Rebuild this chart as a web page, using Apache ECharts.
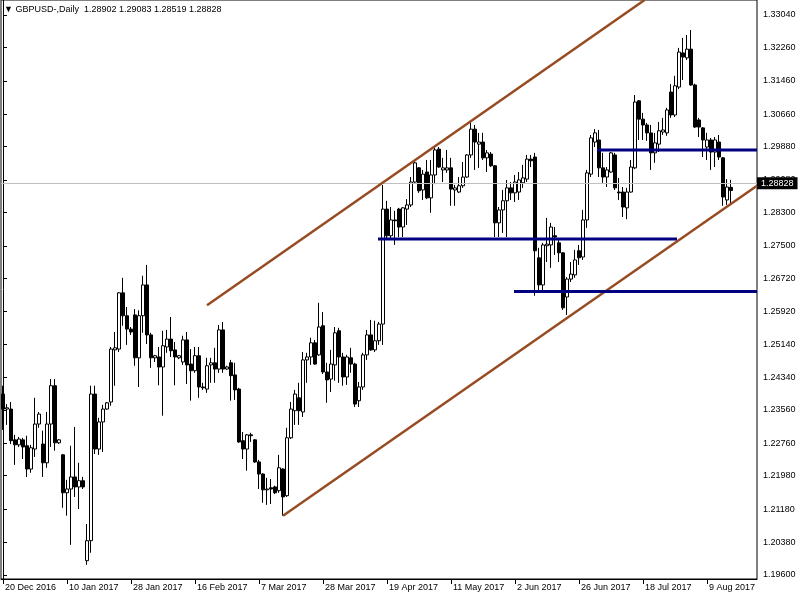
<!DOCTYPE html>
<html><head><meta charset="utf-8">
<script src="https://cdn.jsdelivr.net/npm/echarts@6/dist/echarts.min.js"></script>
<style>html,body{margin:0;padding:0;background:#fff}#c{width:800px;height:600px}</style>
</head><body><div id="c"></div>
<script>
const symbolTitle = 'GBPUSD-,Daily';
const lastQuote = ['1.28902', '1.29083', '1.28519', '1.28828'];
const currentPrice = 1.28828;
const tickLabels = ['20 Dec 2016','10 Jan 2017','28 Jan 2017','16 Feb 2017','7 Mar 2017','28 Mar 2017','19 Apr 2017','11 May 2017','2 Jun 2017','26 Jun 2017','18 Jul 2017','9 Aug 2017'];
const priceTicks = [1.33040,1.32260,1.31460,1.30660,1.29880,1.29080,1.28300,1.27500,1.26720,1.25920,1.25140,1.24340,1.23560,1.22760,1.21980,1.21180,1.20380,1.19600];

const opens = [1.2394,1.2358,1.2358,1.2284,1.2272,1.2284,1.2270,1.2214,1.2262,1.2322,
1.2274,1.2229,1.2322,1.2414,1.2277,1.2248,1.2157,1.2166,1.2195,1.2171,
1.2186,1.1994,1.2042,1.2394,1.2262,1.2327,1.2358,1.2375,1.2500,1.2502,
1.2637,1.2582,1.2550,1.2584,1.2481,1.2582,1.2656,1.2536,1.2481,1.2483,
1.2459,1.2507,1.2526,1.2500,1.2481,1.2471,1.2524,1.2466,1.2450,1.2486,
1.2411,1.2406,1.2464,1.2469,1.2454,1.2548,1.2454,1.2469,1.2440,1.2406,
1.2282,1.2262,1.2296,1.2284,1.2231,1.2202,1.2164,1.2169,1.2171,1.2162,
1.2214,1.2150,1.2289,1.2354,1.2385,1.2351,1.2476,1.2483,1.2517,1.2488,
1.2558,1.2447,1.2430,1.2464,1.2546,1.2483,1.2435,1.2481,1.2466,1.2378,
1.2411,1.2488,1.2536,1.2500,1.2522,1.2562,1.2838,1.2774,1.2812,1.2838,
1.2795,1.2838,1.2848,1.2903,1.2937,1.2884,1.2927,1.2865,1.2920,1.2982,
1.2932,1.2932,1.2937,1.2884,1.2879,1.2894,1.2915,1.2968,1.3030,1.2994,
1.2999,1.2961,1.2970,1.2942,1.2805,1.2836,1.2858,1.2889,1.2877,1.2879,
1.2901,1.2910,1.2958,1.2963,1.2721,1.2656,1.2750,1.2752,1.2774,1.2757,
1.2733,1.2627,1.2670,1.2680,1.2738,1.2723,1.2812,1.2922,1.2999,1.3004,
1.2937,1.2915,1.2927,1.2968,1.2879,1.2879,1.2841,1.2879,1.2937,1.3098,
1.3054,1.3040,1.3021,1.2973,1.2994,1.3023,1.3021,1.3119,1.3064,1.3131,
1.3213,1.3201,1.3222,1.3136,1.3052,1.3033,1.2987,1.3004,1.2975,1.2999,
1.2961,1.2860,1.28902];
const highs = [1.2414,1.2370,1.2375,1.2296,1.2291,1.2289,1.2294,1.2272,1.2385,1.2351,
1.2306,1.2351,1.2430,1.2430,1.2286,1.2250,1.2188,1.2270,1.2315,1.2229,
1.2195,1.2082,1.2414,1.2414,1.2337,1.2368,1.2375,1.2507,1.2543,1.2639,
1.2673,1.2603,1.2555,1.2598,1.2595,1.2678,1.2704,1.2541,1.2488,1.2507,
1.2546,1.2548,1.2579,1.2519,1.2488,1.2534,1.2543,1.2502,1.2507,1.2507,
1.2421,1.2481,1.2481,1.2505,1.2560,1.2567,1.2462,1.2476,1.2469,1.2409,
1.2303,1.2298,1.2301,1.2286,1.2236,1.2204,1.2193,1.2190,1.2174,1.2248,
1.2216,1.2313,1.2375,1.2404,1.2421,1.2495,1.2493,1.2529,1.2524,1.2613,
1.2591,1.2469,1.2500,1.2555,1.2553,1.2493,1.2488,1.2505,1.2469,1.2423,
1.2493,1.2548,1.2572,1.2570,1.2567,1.2896,1.2858,1.2843,1.2834,1.2841,
1.2843,1.2862,1.2915,1.2954,1.2939,1.2932,1.2956,1.2956,1.2987,1.2987,
1.2961,1.2980,1.2961,1.2896,1.2915,1.2951,1.2970,1.3050,1.3040,1.3021,
1.3021,1.2980,1.2975,1.2944,1.2843,1.2884,1.2908,1.2903,1.2920,1.2927,
1.2944,1.2968,1.2968,1.2973,1.2745,1.2757,1.2817,1.2805,1.2795,1.2764,
1.2735,1.2675,1.2711,1.2740,1.2752,1.2836,1.2932,1.3016,1.3030,1.3028,
1.2973,1.2939,1.2975,1.2973,1.2913,1.2891,1.2889,1.2956,1.3112,1.3100,
1.3069,1.3045,1.3040,1.3021,1.3047,1.3057,1.3081,1.3138,1.3158,1.3225,
1.3249,1.3256,1.3268,1.3139,1.3057,1.3035,1.3021,1.3009,1.3011,1.3016,
1.2963,1.2910,1.29083];
const lows = [1.2308,1.2320,1.2274,1.2224,1.2267,1.2238,1.2195,1.2205,1.2243,1.2313,
1.2195,1.2217,1.2267,1.2258,1.2274,1.2121,1.2102,1.2032,1.2147,1.2118,
1.2166,1.1984,1.2013,1.2250,1.2248,1.2255,1.2356,1.2366,1.2414,1.2495,
1.2558,1.2512,1.2536,1.2462,1.2411,1.2541,1.2514,1.2457,1.2471,1.2415,
1.2342,1.2493,1.2483,1.2415,1.2478,1.2464,1.2418,1.2378,1.2445,1.2385,
1.2404,1.2397,1.2421,1.2421,1.2445,1.2445,1.2452,1.2378,1.2380,1.2277,
1.2238,1.2210,1.2279,1.2229,1.2166,1.2133,1.2128,1.2130,1.2154,1.2157,
1.2102,1.2147,1.2286,1.2320,1.2320,1.2339,1.2421,1.2464,1.2464,1.2486,
1.2442,1.2373,1.2399,1.2426,1.2421,1.2414,1.2416,1.2445,1.2363,1.2363,
1.2404,1.2476,1.2498,1.2495,1.2512,1.2512,1.2764,1.2764,1.2752,1.2771,
1.2771,1.2800,1.2843,1.2901,1.2877,1.2860,1.2862,1.2829,1.2898,1.2937,
1.2903,1.2925,1.2846,1.2846,1.2877,1.2889,1.2913,1.2961,1.2932,1.2937,
1.2956,1.2927,1.2939,1.2771,1.2771,1.2781,1.2771,1.2860,1.2855,1.2860,
1.2889,1.2903,1.2939,1.2630,1.2637,1.2637,1.2711,1.2697,1.2728,1.2711,
1.2596,1.2584,1.2663,1.2673,1.2704,1.2716,1.2793,1.2915,1.2987,1.2915,
1.2901,1.2891,1.2925,1.2884,1.2860,1.2819,1.2814,1.2877,1.2934,1.3004,
1.3004,1.3002,1.2932,1.2949,1.2975,1.3016,1.3014,1.3057,1.3059,1.3126,
1.3148,1.3196,1.3134,1.3033,1.3011,1.2963,1.2956,1.2932,1.2939,1.2956,
1.2846,1.2848,1.28519];
const closes = [1.2358,1.2361,1.2282,1.2272,1.2286,1.2267,1.2214,1.2265,1.2322,1.2346,
1.2229,1.2322,1.2414,1.2277,1.2284,1.2157,1.2166,1.2195,1.2171,1.2186,
1.2171,1.2042,1.2394,1.2262,1.2327,1.2358,1.2373,1.2502,1.2505,1.2637,
1.2582,1.2550,1.2543,1.2481,1.2582,1.2656,1.2536,1.2481,1.2486,1.2459,
1.2510,1.2526,1.2498,1.2483,1.2486,1.2524,1.2464,1.2450,1.2486,1.2411,
1.2409,1.2462,1.2469,1.2454,1.2548,1.2454,1.2459,1.2438,1.2404,1.2279,
1.2262,1.2296,1.2294,1.2231,1.2202,1.2164,1.2166,1.2166,1.2157,1.2217,
1.2147,1.2289,1.2358,1.2394,1.2354,1.2476,1.2483,1.2517,1.2466,1.2555,
1.2447,1.2428,1.2466,1.2541,1.2483,1.2435,1.2483,1.2466,1.2370,1.2411,
1.2488,1.2536,1.2500,1.2522,1.2562,1.2838,1.2774,1.2812,1.2810,1.2795,
1.2841,1.2848,1.2903,1.2949,1.2882,1.2922,1.2865,1.2920,1.2980,1.2939,
1.2937,1.2937,1.2886,1.2889,1.2894,1.2915,1.2968,1.3030,1.2999,1.2999,
1.2961,1.2973,1.2942,1.2805,1.2836,1.2858,1.2889,1.2877,1.2903,1.2908,
1.2913,1.2958,1.2954,1.2738,1.2656,1.2752,1.2754,1.2795,1.2771,1.2733,
1.2601,1.2670,1.2682,1.2716,1.2721,1.2812,1.2925,1.3009,1.3021,1.2937,
1.2915,1.2932,1.2973,1.2889,1.2877,1.2843,1.2879,1.2939,1.3095,1.3054,
1.3040,1.3021,1.2973,1.2997,1.3026,1.3028,1.3076,1.3064,1.3134,1.3215,
1.3203,1.3222,1.3136,1.3035,1.3035,1.3004,1.3004,1.2975,1.3004,1.2963,
1.2867,1.2891,1.28828];

// drawn objects: [barIndex, price]
const channelUpper = [[51, 1.2607], [160.4, 1.3340]];
const channelLower = [[70, 1.2102], [188.5, 1.2894]];
const levelHigh = [[148.5, 1.2980], [188.5, 1.2980]];
const levelMid = [[93.75, 1.2766], [168.5, 1.2766]];
const levelLow = [[127.75, 1.2640], [188.5, 1.2640]];

const N = 189;
const categories = Array.from({length: N}, (_, i) => 'bar' + i);
const labelAt = i => (i % 16 === 0 && i / 16 < tickLabels.length) ? tickLabels[i / 16] : null;
const candles = opens.map((o, i) => [o, closes[i], lows[i], highs[i]]);
const FONT = '"Liberation Sans", Arial, sans-serif';

const chart = echarts.init(document.getElementById('c'), null, {renderer: 'canvas'});
const objLine = (data, color, width) => ({
  type: 'line', xAxisIndex: 1, yAxisIndex: 0, data: data, symbol: 'none', silent: true,
  lineStyle: {color: color, width: width}, z: 5, animation: false
});
chart.setOption({
  animation: false,
  backgroundColor: '#ffffff',
  grid: {left: 1, top: 0, width: 756, height: 579, show: true, borderColor: '#000', borderWidth: 1, backgroundColor: 'transparent'},
  graphic: [{
    type: 'text', left: 4, top: 5,
    style: {text: '\u25BC ' + symbolTitle + '  ' + lastQuote.join(' '), font: '9px ' + FONT, fill: '#000'}
  }],
  xAxis: [{
    type: 'category', data: categories, boundaryGap: true,
    axisLine: {lineStyle: {color: '#000', width: 1}},
    axisTick: {show: true, alignWithLabel: true, length: 5, interval: (i) => labelAt(i) !== null, lineStyle: {color: '#000'}},
    axisLabel: {interval: (i) => labelAt(i) !== null, formatter: (v, i) => labelAt(i) || '', align: 'left', color: '#000', fontFamily: FONT, fontSize: 9, margin: 4, padding: [0, 0, 0, 2]},
    splitLine: {show: false}
  }, {
    type: 'value', min: -0.5, max: N - 0.5, show: false
  }],
  yAxis: [{
    type: 'value', position: 'right', min: 1.195, max: 1.334,
    axisLine: {show: true, lineStyle: {color: '#000', width: 1}},
    axisTick: {show: true, length: 4, customValues: priceTicks, lineStyle: {color: '#000'}},
    axisLabel: {customValues: priceTicks, formatter: v => v.toFixed(5), color: '#000', fontFamily: FONT, fontSize: 9, margin: 6},
    splitLine: {show: false}
  }],
  series: [{
    type: 'candlestick', data: candles, barWidth: 3, barMinWidth: 3,
    itemStyle: {color: '#ffffff', color0: '#000000', borderColor: '#000000', borderColor0: '#000000', borderWidth: 1},
    markLine: {
      silent: true, symbol: ['none', 'none'], animation: false,
      data: [{yAxis: currentPrice}],
      lineStyle: {color: '#c0c0c0', width: 1, type: 'solid'},
      label: {position: 'end', formatter: () => currentPrice.toFixed(5), backgroundColor: '#000', color: '#fff', padding: [2, 4, 1, 4], fontFamily: FONT, fontSize: 9, distance: 0}
    }
  },
  objLine(channelUpper, '#964b22', 2.5),
  objLine(channelLower, '#964b22', 2.5),
  objLine(levelHigh, '#000080', 3),
  objLine(levelMid, '#000080', 3),
  objLine(levelLow, '#000080', 3)
  ]
});
</script></body></html>
